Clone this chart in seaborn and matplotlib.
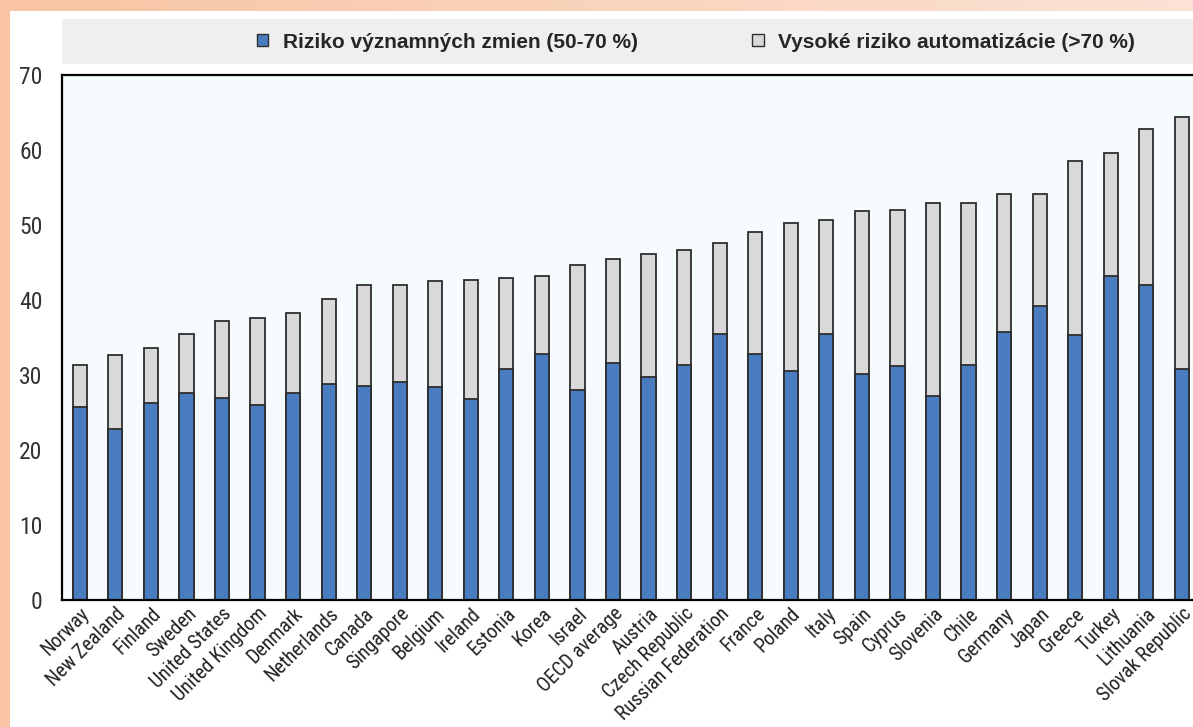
import numpy as np
import pandas as pd
import matplotlib
matplotlib.use("Agg")
import matplotlib.pyplot as plt
from matplotlib.patches import Rectangle, Patch
import seaborn as sns

# Share of jobs by automation risk, by country (%)
countries = [
    "Norway", "New Zealand", "Finland", "Sweden", "United States",
    "United Kingdom", "Denmark", "Netherlands", "Canada", "Singapore",
    "Belgium", "Ireland", "Estonia", "Korea", "Israel", "OECD average",
    "Austria", "Czech Republic", "Russian Federation", "France", "Poland",
    "Italy", "Spain", "Cyprus", "Slovenia", "Chile", "Germany", "Japan",
    "Greece", "Turkey", "Lithuania", "Slovak Republic",
]
# risk of significant change (50-70 %)
significant_change = [
    25.7, 22.8, 26.3, 27.6, 26.9, 26.0, 27.6, 28.8, 28.6, 29.1,
    28.4, 26.8, 30.8, 32.8, 28.0, 31.6, 29.7, 31.3, 35.5, 32.8,
    30.6, 35.5, 30.1, 31.2, 27.2, 31.4, 35.8, 39.2, 35.4, 43.2,
    42.0, 30.8,
]
# high risk of automation (>70 %)
high_risk = [
    5.6, 9.9, 7.3, 7.9, 10.3, 11.6, 10.7, 11.3, 13.4, 12.9,
    14.1, 15.9, 12.2, 10.4, 16.7, 13.8, 16.5, 15.4, 12.1, 16.3,
    19.7, 15.2, 21.8, 20.8, 25.7, 21.5, 18.3, 14.9, 23.2, 16.4,
    20.8, 33.6,
]
series_labels = [
    "Riziko významných zmien (50-70 %)",
    "Vysoké riziko automatizácie (>70 %)",
]
y_ticks = [0, 10, 20, 30, 40, 50, 60, 70]

BLUE = "#4a7dbf"
GREY = "#d9d9d9"
EDGE = "#2e2e2e"

df = pd.DataFrame({
    "country": countries,
    "significant": significant_change,
    "high": high_risk,
})
df["stack_top"] = df["significant"] + df["high"]

sns.set_style("white")
plt.rcParams["font.family"] = ["Roboto Condensed", "Liberation Sans", "DejaVu Sans"]

W, H = 1193, 727
fig = plt.figure(figsize=(W / 100, H / 100), dpi=100)

# peach backdrop with a soft lighter wash towards the upper right
bg = fig.add_axes([0, 0, 1, 1], zorder=-10)
gx = np.linspace(0, 1, 300)[None, :]
gy = np.linspace(0, 1, 200)[:, None]
wash = np.clip(0.85 * gx * (1 - gy) ** 0.6, 0, 1)
c0 = np.array([248, 196, 163]) / 255
c1 = np.array([252, 232, 222]) / 255
img = c0[None, None, :] * (1 - wash[..., None]) + c1[None, None, :] * wash[..., None]
bg.imshow(img, aspect="auto", extent=[0, 1, 0, 1], origin="upper")
bg.set_axis_off()

# white card behind the chart
fig.patches.append(Rectangle((10 / W, 0), 1, 1 - 11 / H, transform=fig.transFigure,
                             facecolor="white", edgecolor="none", zorder=-5))
# grey legend band
fig.patches.append(Rectangle((62 / W, 1 - 64 / H), 1, 45 / H, transform=fig.transFigure,
                             facecolor="#efefef", edgecolor="none", zorder=-4))

ax = fig.add_axes([62 / W, 1 - 600 / H, 1137.6 / W, 525 / H])
ax.set_facecolor("#f6fcfe")

sns.barplot(data=df, x="country", y="stack_top", order=countries, color=GREY,
            saturation=1, width=0.4, edgecolor=EDGE, linewidth=1.3, ax=ax)
sns.barplot(data=df, x="country", y="significant", order=countries, color=BLUE,
            saturation=1, width=0.4, edgecolor=EDGE, linewidth=1.3, ax=ax)

ax.set_xlim(-0.5, len(countries) - 0.5)
ax.set_ylim(0, 70)
ax.set_xlabel("")
ax.set_ylabel("")

ax.set_yticks(y_ticks)
ax.set_yticklabels([str(v) for v in y_ticks], fontsize=17, color="#333333")
ax.tick_params(axis="y", direction="in", length=6, width=1.5, color="black", pad=14)

ax.set_xticks(range(len(countries)))
ax.set_xticklabels(countries, rotation=45, ha="right", va="top",
                   rotation_mode="anchor", fontsize=14.3, color="#222222")
ax.set_xticks(np.arange(0.5, len(countries) - 1, 1.0), minor=True)
ax.tick_params(axis="x", which="major", length=0, pad=3)
ax.tick_params(axis="x", which="minor", direction="in", length=6, width=1.5, color="black")

for side in ("left", "bottom", "top"):
    ax.spines[side].set_visible(True)
    ax.spines[side].set_color("black")
    ax.spines[side].set_linewidth(1.6)
ax.spines["right"].set_visible(False)

handles = [Patch(facecolor=BLUE, edgecolor=EDGE, linewidth=1.0),
           Patch(facecolor=GREY, edgecolor=EDGE, linewidth=1.0)]
fig.legend(handles, series_labels, loc="center", bbox_to_anchor=(696 / W, 1 - 42 / H),
           ncol=2, frameon=False,
           prop={"family": ["Liberation Sans", "DejaVu Sans"], "weight": "bold", "size": 15},
           handlelength=0.55, handleheight=0.55, handletextpad=0.7, columnspacing=5.5)

fig.savefig("out.png", dpi=100)
